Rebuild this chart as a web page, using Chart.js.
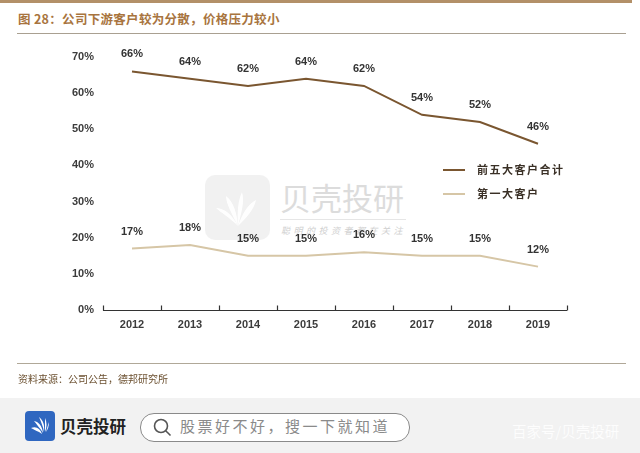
<!DOCTYPE html>
<html><head><meta charset="utf-8">
<script src="https://cdn.jsdelivr.net/npm/chart.js@4.4.0/dist/chart.umd.min.js"></script>
<style>
html,body{margin:0;padding:0;background:#fff;width:640px;height:453px;overflow:hidden;font-family:"Noto Sans CJK SC",sans-serif;}
#wrap{position:relative;width:640px;height:453px;}
.abs{position:absolute;white-space:nowrap;}
#topline{left:0;top:0;width:632px;height:3px;background:#b39068;}
#title{left:18px;top:9px;font-size:12.5px;font-weight:bold;color:#a8743e;letter-spacing:0.3px;}
#tline{left:17px;top:33px;width:609px;height:1px;background:#a9a091;}
#sline{left:17px;top:363px;width:609px;height:1px;background:#b0a898;}
#source{left:18px;top:371px;font-size:10px;color:#6b5030;}
#bar{left:0;top:398px;width:640px;height:55px;background:#f2f2f2;}
#logo{left:25px;top:411px;width:30px;height:30px;background:#2f67c0;border-radius:4px;}
#logotxt{left:60px;top:414px;font-size:16.5px;font-weight:bold;color:#222;}
#search{left:140px;top:413px;width:268px;height:27px;border:1.3px solid #8a8a8a;border-radius:14px;background:#fff;}
#stxt{left:180px;top:415px;font-size:15px;color:#8a8a8a;letter-spacing:2.5px;}
#bj{left:512px;top:420px;font-size:14.5px;color:#fff;opacity:0.85;}
#wm{left:205px;top:175px;width:65px;height:65px;background:#efefef;border-radius:10px;opacity:0.85;}
#wmtxt{left:280px;top:174px;font-size:31px;color:#dcdcdc;letter-spacing:0px;}
#wmline{left:280px;top:219px;width:126px;height:1px;background:#e6e6e6;}
#wmsub{left:281px;top:224px;font-size:9px;color:#d0d0d0;letter-spacing:3.5px;font-style:italic;}
.leg{font-size:11px;font-weight:bold;color:#3a3026;letter-spacing:1.5px;}
.legline{width:22px;height:2px;}
canvas{position:absolute;left:0;top:0;}
</style></head>
<body><div id="wrap">
<div class="abs" id="topline"></div>
<div class="abs" id="title">图 28：公司下游客户较为分散，价格压力较小</div>
<div class="abs" id="tline"></div>
<div class="abs" id="wm"></div>
<svg class="abs" style="left:212px;top:182px" width="52" height="52" viewBox="0 0 52 52">
 <g fill="#ffffff" opacity="0.95">
  <path d="M26 44 C18 36 8 30 4 26 C12 26 20 32 26 44Z"/>
  <path d="M26 44 C20 32 14 22 14 14 C22 20 25 32 26 44Z"/>
  <path d="M26 44 C25 30 26 18 30 10 C33 20 29 32 26 44Z"/>
  <path d="M26 44 C30 32 36 22 44 18 C42 28 34 36 26 44Z"/>
 </g>
</svg>
<div class="abs" id="wmtxt">贝壳投研</div>
<div class="abs" id="wmline"></div>
<div class="abs" id="wmsub">聪明的投资者都在关注</div>
<canvas id="c" width="640" height="400"></canvas>
<div id="legend"></div>
<div class="abs" id="sline"></div>
<div class="abs" id="source">资料来源：公司公告，德邦研究所</div>
<div class="abs" id="bar"></div>
<div class="abs" id="logo"></div>
<svg class="abs" style="left:28px;top:414px" width="24" height="24" viewBox="0 0 24 24">
 <g fill="#ffffff">
  <path d="M3 14 C8 12 12 14 14 20 C10 17 6 16 3 14Z"/>
  <path d="M6 7 C11 8 14 12 15 19 C12 14 9 11 6 7Z"/>
  <path d="M11 3 C15 6 17 11 16 18 C15 12 13 8 11 3Z"/>
  <path d="M17 4 C19 8 19 13 17 18 C17 13 17 9 17 4Z"/>
  <path d="M21 8 C21 12 20 15 18 18 C19 14 20 11 21 8Z"/>
 </g>
</svg>
<div class="abs" id="logotxt">贝壳投研</div>
<div class="abs" id="search"></div>
<svg class="abs" style="left:152px;top:417px" width="22" height="22" viewBox="0 0 22 22"><circle cx="9" cy="9" r="6.5" fill="none" stroke="#555" stroke-width="1.6"/><line x1="13.7" y1="13.7" x2="18.5" y2="18.5" stroke="#555" stroke-width="1.6"/></svg>
<div class="abs" id="stxt">股票好不好，搜一下就知道</div>
<div class="abs" id="bj">百家号/贝壳投研</div>
</div>
<script>
const categories = ['2012','2013','2014','2015','2016','2017','2018','2019'];
const seriesNames = ['前五大客户合计','第一大客户'];
const top5 = [66,64,62,64,62,54,52,46];
const top1 = [17,18,15,15,16,15,15,12];
const yTicks = [0,10,20,30,40,50,60,70];
const colors = ['#7a5630','#d6c6a6'];

const legendEl = document.getElementById('legend');
const legendTops = [170,194];
seriesNames.forEach((n,i)=>{
  const l = document.createElement('div');
  l.className='abs legline'; l.style.left='443px'; l.style.top=(legendTops[i]-1)+'px'; l.style.background=colors[i];
  legendEl.appendChild(l);
  const t = document.createElement('div');
  t.className='abs leg'; t.textContent=n; t.style.left='477px'; t.style.top=(legendTops[i]-9)+'px';
  legendEl.appendChild(t);
});

const labelsPlugin = {
  id:'vlabels',
  afterDatasetsDraw(chart){
    const ctx = chart.ctx;
    ctx.save();
    ctx.font = 'bold 11px "Liberation Sans", Arial, sans-serif';
    ctx.fillStyle = '#333';
    ctx.textAlign='center'; ctx.textBaseline='middle';
    chart.data.datasets.forEach((ds,di)=>{
      const meta = chart.getDatasetMeta(di);
      meta.data.forEach((pt,i)=>{
        ctx.fillText(ds.data[i]+'%', pt.x, pt.y-17);
      });
    });
    ctx.restore();
  }
};
const xTickPlugin = {
  id:'xticksUp',
  afterDraw(chart){
    const xs = chart.scales.x, ctx = chart.ctx;
    const y = Math.round(chart.chartArea.bottom)+0.5;
    const n = categories.length;
    const step = (xs.right - xs.left)/n;
    ctx.save();
    ctx.strokeStyle='#333'; ctx.lineWidth=1.2;
    ctx.beginPath();
    ctx.moveTo(xs.left, y); ctx.lineTo(xs.right, y);
    for(let i=0;i<=n;i++){
      const xx = Math.round(xs.left + step*i)+0.5;
      ctx.moveTo(xx, y); ctx.lineTo(xx, y-5);
    }
    ctx.stroke();
    ctx.restore();
  }
};

new Chart(document.getElementById('c'), {
  type:'line',
  data:{labels:categories, datasets:[
    {label:seriesNames[0], data:top5, borderColor:colors[0], borderWidth:2, pointRadius:0, tension:0},
    {label:seriesNames[1], data:top1, borderColor:colors[1], borderWidth:2, pointRadius:0, tension:0}
  ]},
  options:{
    responsive:false, animation:false, devicePixelRatio:1,
    layout:{padding:{top:57,left:0,right:73,bottom:0}},
    plugins:{legend:{display:false}, tooltip:{enabled:false}},
    scales:{
      x:{offset:true, grid:{display:false}, border:{display:false},
         ticks:{color:'#3c3c3c', maxRotation:0, autoSkip:false, font:{family:'"Liberation Sans", Arial, sans-serif', size:11, weight:'bold'}, padding:0},
         afterFit(s){s.height=90;}},
      y:{min:0,max:70, afterBuildTicks(s){s.ticks=yTicks.map(v=>({value:v}));},
         grid:{display:false}, border:{display:false},
         ticks:{color:'#3c3c3c', padding:1, font:{family:'"Liberation Sans", Arial, sans-serif', size:11, weight:'bold'}, callback:v=>v+'%'},
         afterFit(s){s.width=103;}}
    }
  },
  plugins:[labelsPlugin, xTickPlugin]
});
</script>
</body></html>
